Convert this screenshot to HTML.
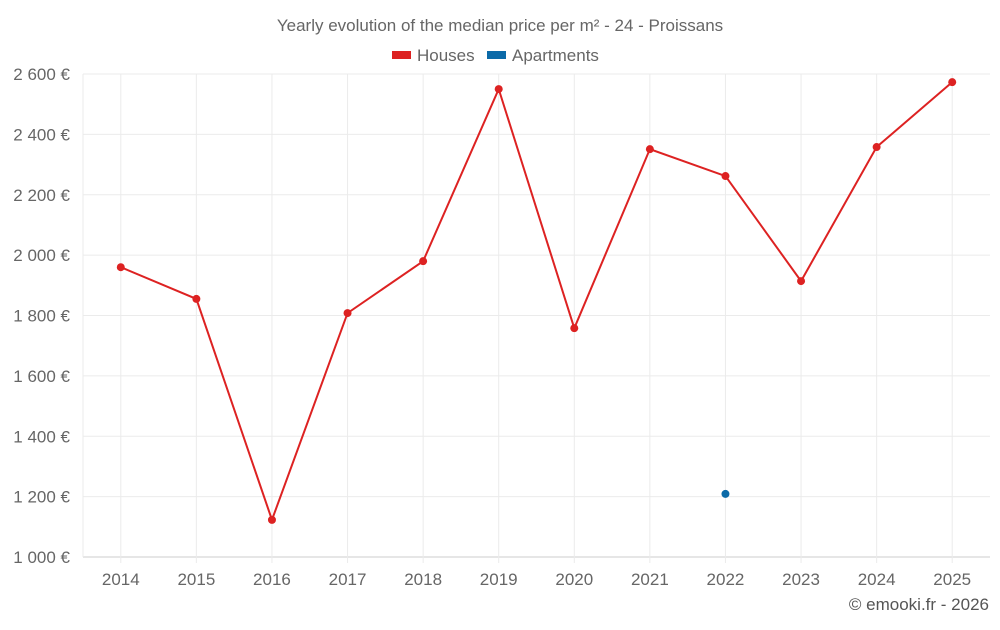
<!DOCTYPE html>
<html><head><meta charset="utf-8"><style>
body{margin:0;background:#fff;font-family:"Liberation Sans",sans-serif;}
svg text{font-family:"Liberation Sans",sans-serif;}
</style></head><body>
<svg id="c" width="1000" height="625">
<text x="500" y="31" text-anchor="middle" font-size="17" fill="#666">Yearly evolution of the median price per m² - 24 - Proissans</text>
<g>
<g><rect x="392" y="51" width="19" height="8" fill="#dd2222"/><text x="417" y="61" font-size="17" fill="#666">Houses</text></g>
<g><rect x="487" y="51" width="19" height="8" fill="#0b6aa8"/><text x="512" y="61" font-size="17" fill="#666">Apartments</text></g>
</g>
<g id="grid"></g><g id="axes"></g><g id="marks"></g>
<text x="989" y="610" text-anchor="end" font-size="17" fill="#555">© emooki.fr - 2026</text>
</svg>
<script>
const years=["2014","2015","2016","2017","2018","2019","2020","2021","2022","2023","2024","2025"];
const houses=[1960,1855,1123,1808,1980,2550,1758,2351,2262,1914,2358,2573];
const apartments=[null,null,null,null,null,null,null,null,1209,null,null,null];
const yTicks=[1000,1200,1400,1600,1800,2000,2200,2400,2600];
const L=83,R=990,T=74,B=557,yMin=1000,yMax=2600;
const band=(R-L)/years.length;
const x=i=>L+band*(i+0.5);
const y=v=>B-(v-yMin)/(yMax-yMin)*(B-T);
const NS="http://www.w3.org/2000/svg";
function mk(t,a,p){const e=document.createElementNS(NS,t);for(const k in a)e.setAttribute(k,a[k]);p.appendChild(e);return e;}
const g=document.getElementById('grid'),ax=document.getElementById('axes'),m=document.getElementById('marks');
yTicks.forEach(v=>{
 const l=mk('line',{x1:L,x2:R,y1:y(v),y2:y(v),stroke:v===yMin?'#ccc':'#ebebeb'},g);
 
 
 const t=mk('text',{x:70,y:y(v)+6,'text-anchor':'end','font-size':17,fill:'#666'},ax);
 t.textContent=String(v).replace(/\B(?=(\d{3})+$)/,' ')+' €';
 
 
});
const l0=mk('line',{x1:L,x2:L,y1:T,y2:B,stroke:'#ebebeb'},g);


years.forEach((yr,i)=>{
 const l=mk('line',{x1:x(i),x2:x(i),y1:T,y2:B+6,stroke:'#ebebeb'},g);
 
 
 const t=mk('text',{x:x(i),y:585,'text-anchor':'middle','font-size':17,fill:'#666'},ax);
 t.textContent=yr;
 
 
});
const pl=mk('polyline',{points:houses.map((v,i)=>x(i)+','+y(v)).join(' '),fill:'none',stroke:'#dd2222','stroke-width':2},m);


houses.forEach((v,i)=>{
 const c=mk('circle',{cx:x(i),cy:y(v),r:4,fill:'#dd2222'},m);
 
 
});
apartments.forEach((v,i)=>{
 if(v==null)return;
 const c=mk('circle',{cx:x(i),cy:y(v),r:4,fill:'#0b6aa8'},m);
 
 
});
</script>
</body></html>
